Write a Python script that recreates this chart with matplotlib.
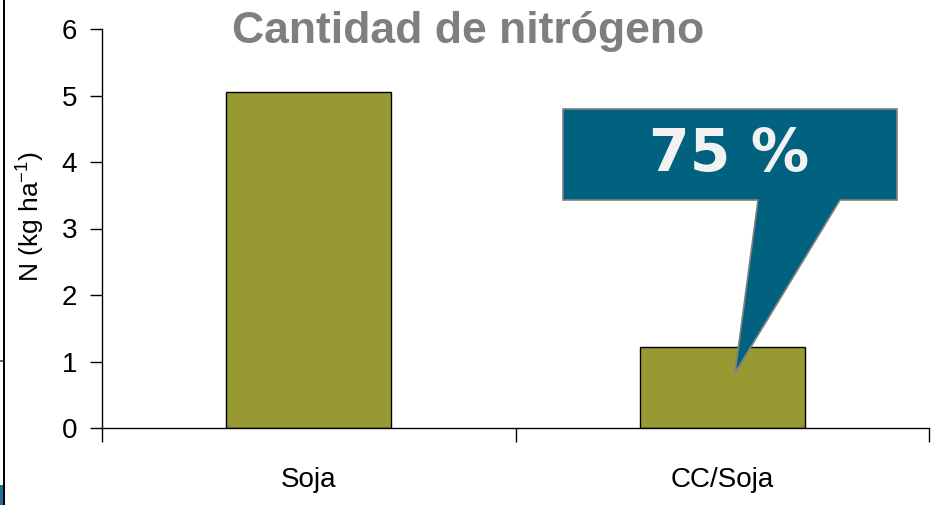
import matplotlib.pyplot as plt
from matplotlib import font_manager
from matplotlib.patches import Polygon, Rectangle

# data
categories = ["Soja", "CC/Soja"]
nitrogen = [5.05, 1.22]
yticks = [0, 1, 2, 3, 4, 5, 6]
reduction_label = "75 %"

bar_color = "#999933"
callout_color = "#00627f"

# narrow face for the category labels if it is there
names = {f.name for f in font_manager.fontManager.ttflist}
narrow = "Liberation Sans Narrow" in names
xlab_family = "Liberation Sans Narrow" if narrow else "Liberation Sans"
xlab_size = 22 if narrow else 20

fig = plt.figure(figsize=(9.33, 5.05), dpi=100)
ax = fig.add_axes([102 / 933, 1 - 428 / 505, 827 / 933, 399 / 505])

pos = [0.5, 1.5]
ax.bar(pos, nitrogen, width=0.4, color=bar_color, edgecolor="black", linewidth=1, zorder=2)

ax.set_xlim(0, 2)
ax.set_ylim(0, 6)
ax.set_yticks(yticks)
ax.set_xticks([0, 1, 2])
ax.set_xticklabels([])
ax.set_xticks(pos, minor=True)
ax.set_xticklabels(categories, minor=True, fontsize=xlab_size, family=xlab_family)
ax.tick_params(axis="x", which="minor", length=0, pad=28)
ax.tick_params(axis="x", which="major", length=10, width=1, direction="out")
ax.tick_params(axis="y", length=9, width=1, direction="out", labelsize=20, pad=9)
for lab in ax.get_yticklabels():
    lab.set_family("Liberation Sans")

for s in ["top", "right"]:
    ax.spines[s].set_visible(False)
for s in ["left", "bottom"]:
    ax.spines[s].set_linewidth(1)

ax.set_ylabel("N (kg ha$^{\\mathregular{-1}}$)", fontsize=19, family="Liberation Sans")
ax.yaxis.set_label_coords(-56 / 827, 0.53)

fig.text(468 / 933, 1 - 32 / 505, "Cantidad de nitrógeno", fontsize=32, fontweight="bold",
         color="#7f7f7f", family="Liberation Sans", ha="center", va="center")

# callout in figure pixel coordinates converted to fractions
def fp(x, y):
    return (x / 933, 1 - y / 505)

callout = Polygon([fp(563, 109), fp(897, 109), fp(897, 200), fp(840, 200), fp(735, 373),
                   fp(758, 200), fp(563, 200)], closed=True, transform=fig.transFigure,
                  facecolor=callout_color, edgecolor="#808080", linewidth=1.2, zorder=5)
fig.patches.append(callout)
fig.text(729 / 933, 1 - 155 / 505, reduction_label, fontsize=42, fontweight="bold",
         color="#f2f2f2", family="DejaVu Sans", ha="center", va="center", zorder=6)

# slide border remnants on the left
fig.patches.append(Rectangle(fp(3, 505), 2 / 933, 1, transform=fig.transFigure,
                             facecolor="black", edgecolor="none"))
fig.patches.append(Rectangle(fp(0, 362), 3 / 933, 2 / 505, transform=fig.transFigure,
                             facecolor="#2f7f8f", edgecolor="none"))
fig.patches.append(Rectangle(fp(0, 505), 3 / 933, 20 / 505, transform=fig.transFigure,
                             facecolor="#1f7090", edgecolor="none"))

fig.savefig("out.png", dpi=100)
